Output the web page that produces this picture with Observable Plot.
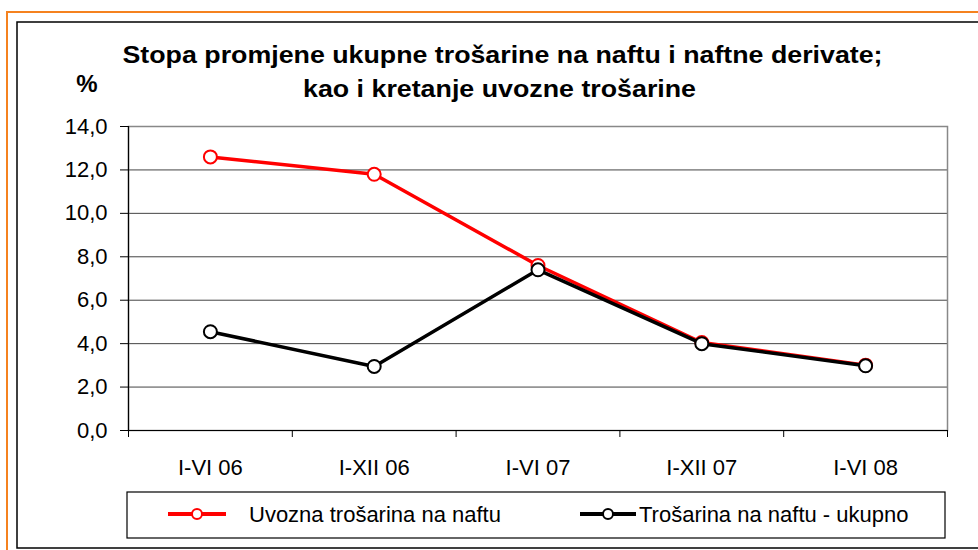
<!DOCTYPE html>
<html><head><meta charset="utf-8">
<script src="https://cdn.jsdelivr.net/npm/d3@7"></script>
<script src="https://cdn.jsdelivr.net/npm/@observablehq/plot@0.6"></script>
<style>body{margin:0;background:#fff;overflow:hidden}</style>
</head><body><div id="chart"></div>
<script>
const periods = ["I-VI 06", "I-XII 06", "I-VI 07", "I-XII 07", "I-VI 08"];
const uvozna = [12.6, 11.8, 7.6, 4.05, 3.01];
const ukupno = [4.55, 2.95, 7.4, 4.0, 2.98];
const yTicks = [0, 2, 4, 6, 8, 10, 12, 14];
const seriesNames = ["Uvozna trošarina na naftu", "Trošarina na naftu - ukupno"];
const seriesColors = ["#ff0000", "#000000"];
const titleLines = ["Stopa promjene ukupne trošarine na naftu i naftne derivate;", "kao i kretanje uvozne trošarine"];
const yUnit = "%";

const toRows = (vals, s) => vals.map((v, i) => ({i, v, s}));
const red = toRows(uvozna, seriesNames[0]);
const black = toRows(ukupno, seriesNames[1]);
const bounds = d3.range(periods.length + 1).map(i => i - 0.5);
const fmt = d => d.toFixed(1).replace(".", ",");
const FONT = "'Liberation Sans', Arial, sans-serif";

const svg = Plot.plot({
  width: 978, height: 550,
  marginLeft: 128, marginRight: 31, marginTop: 126, marginBottom: 120,
  style: {fontFamily: FONT, fontSize: "22px", background: "#fff", color: "#000"},
  x: {type: "linear", domain: [-0.5, periods.length - 0.5]},
  y: {domain: [0, 14]},
  marks: [
    Plot.ruleY(yTicks.filter(d => d > 0 && d < 14), {stroke: "#444", strokeWidth: 1}),
    Plot.frame({stroke: "#888", strokeWidth: 1.5}),
    Plot.ruleY([0], {stroke: "#000", strokeWidth: 1.2}),
    Plot.ruleX([-0.5], {stroke: "#000", strokeWidth: 1.2}),
    Plot.axisY({ticks: yTicks, tickFormat: fmt, tickSize: 8, tickPadding: 13, label: null}),
    Plot.axisX({ticks: bounds, tickFormat: () => "", tickSize: 7, label: null}),
    Plot.axisX({ticks: d3.range(periods.length), tickFormat: i => periods[i], tickSize: 0, tickPadding: 29, label: null}),
    Plot.line(red, {x: "i", y: "v", stroke: seriesColors[0], strokeWidth: 3.5}),
    Plot.dot(red, {x: "i", y: "v", r: 6.5, fill: "#fff", stroke: seriesColors[0], strokeWidth: 2}),
    Plot.line(black, {x: "i", y: "v", stroke: seriesColors[1], strokeWidth: 3.5}),
    Plot.dot(black, {x: "i", y: "v", r: 6.5, fill: "#fff", stroke: seriesColors[1], strokeWidth: 2})
  ]
});
document.getElementById("chart").appendChild(svg);

const s = d3.select(svg);
// outer frames
s.insert("rect", ":first-child").attr("x", 17).attr("y", 22).attr("width", 1000).attr("height", 526)
  .attr("fill", "none").attr("stroke", "#000").attr("stroke-width", 1.5);
s.insert("rect", ":first-child").attr("x", 7).attr("y", 12).attr("width", 1000).attr("height", 600)
  .attr("fill", "none").attr("stroke", "#f5821f").attr("stroke-width", 2);

// title
const t = s.append("g").attr("font-family", FONT).attr("font-weight", "bold").attr("font-size", 24).attr("text-anchor", "middle");
t.append("text").attr("x", 502.5).attr("y", 63).attr("textLength", 760).attr("lengthAdjust", "spacingAndGlyphs").text(titleLines[0]);
t.append("text").attr("x", 499.5).attr("y", 97).attr("textLength", 393).attr("lengthAdjust", "spacingAndGlyphs").text(titleLines[1]);
t.append("text").attr("x", 87).attr("y", 92).text(yUnit);

// legend
const lg = s.append("g").attr("font-family", FONT).attr("font-size", 22).attr("text-anchor", "start");
lg.append("rect").attr("x", 127).attr("y", 492).attr("width", 818).attr("height", 46)
  .attr("fill", "#fff").attr("stroke", "#000").attr("stroke-width", 1.2);
const entries = [{x0: 168, x1: 226, tx: 249}, {x0: 580, x1: 636, tx: 639}];
entries.forEach((e, k) => {
  lg.append("line").attr("x1", e.x0).attr("x2", e.x1).attr("y1", 514).attr("y2", 514)
    .attr("stroke", seriesColors[k]).attr("stroke-width", 4);
  lg.append("circle").attr("cx", (e.x0 + e.x1) / 2).attr("cy", 514).attr("r", 5)
    .attr("fill", "#fff").attr("stroke", seriesColors[k]).attr("stroke-width", 2);
  lg.append("text").attr("x", e.tx).attr("y", 514).attr("dy", "0.35em").text(seriesNames[k]);
});
</script>
</body></html>
